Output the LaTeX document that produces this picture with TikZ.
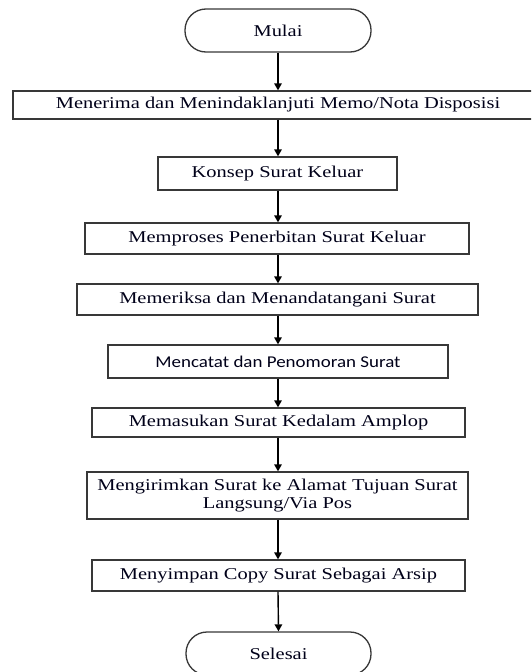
\documentclass[tikz,border=0pt]{standalone}
\usepackage{fontspec}
\setmainfont{Liberation Serif}[FakeStretch=1.24]
\newfontfamily\sansalt{Carlito}[FakeStretch=1.15]
\usetikzlibrary{arrows.meta}
\begin{document}
\begin{tikzpicture}[x=1pt,y=-1pt,
  boxst/.style={draw=black!78,line width=1.3pt,rectangle,inner sep=0pt,align=center,text=black!90!blue,
    font=\fontsize{16.5}{17.5}\selectfont},
  termst/.style={boxst,rounded corners=21pt},
  arr/.style={draw=black,line width=1.4pt,-{Triangle[width=7.5pt,length=7pt]}}]
\useasboundingbox (0,0) rectangle (531,672);
\clip (0,0) rectangle (531,672);
\fill[white] (0,0) rectangle (531,672);
\node[termst,minimum width=186pt,minimum height=43pt] (mulai) at (278,30.5) {Mulai};
\node[boxst,minimum width=530pt,minimum height=28pt] (b1) at (278,105) {Menerima dan Menindaklanjuti Memo/Nota Disposisi};
\node[boxst,minimum width=239pt,minimum height=33pt] (b2) at (277.5,173.5) {Konsep Surat Keluar};
\node[boxst,minimum width=384pt,minimum height=31pt] (b3) at (277,238.5) {Memproses Penerbitan Surat Keluar};
\node[boxst,minimum width=401pt,minimum height=31pt] (b4) at (277.5,299.5) {Memeriksa dan Menandatangani Surat};
\node[boxst,minimum width=340pt,minimum height=33pt,font=\sansalt\fontsize{16.5}{17.5}\selectfont] (b5) at (278,361.5) {Mencatat dan Penomoran Surat};
\node[boxst,minimum width=373pt,minimum height=29pt] (b6) at (278.5,422.5) {Memasukan Surat Kedalam Amplop};
\node[boxst,minimum width=381pt,minimum height=47pt] (b7) at (277.5,495.5) {Mengirimkan Surat ke Alamat Tujuan Surat\\Langsung/Via Pos};
\node[boxst,minimum width=373pt,minimum height=31pt] (b8) at (278.5,575.5) {Menyimpan Copy Surat Sebagai Arsip};
\node[termst,minimum width=185pt,minimum height=43pt] (selesai) at (278.5,653.5) {Selesai};
\draw[arr] (mulai.south) -- (mulai.south |- b1.north);
\draw[arr] (mulai.south |- b1.south) -- (mulai.south |- b2.north);
\draw[arr] (mulai.south |- b2.south) -- (mulai.south |- b3.north);
\draw[arr] (mulai.south |- b3.south) -- (mulai.south |- b4.north);
\draw[arr] (mulai.south |- b4.south) -- (mulai.south |- b5.north);
\draw[arr] (mulai.south |- b5.south) -- (mulai.south |- b6.north);
\draw[arr] (mulai.south |- b6.south) -- (mulai.south |- b7.north);
\draw[arr] (mulai.south |- b7.south) -- (mulai.south |- b8.north);
\draw[arr] (mulai.south |- b8.south) -- (selesai.north);
\end{tikzpicture}
\end{document}
